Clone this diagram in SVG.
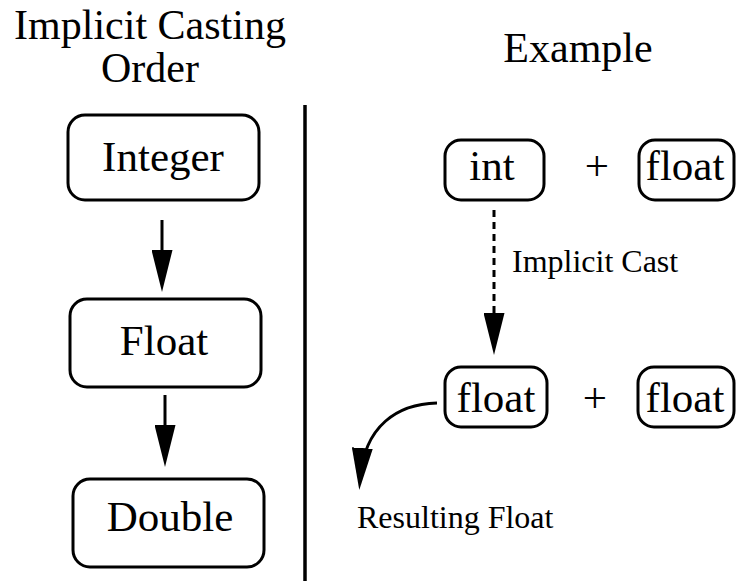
<svg xmlns="http://www.w3.org/2000/svg" width="736" height="581" viewBox="0 0 736 581">
  <style>
    .big { font-family: "Liberation Serif", "Times New Roman", serif; font-size: 42px; fill: #000; }
    .box { font-family: "Liberation Serif", "Times New Roman", serif; font-size: 43px; fill: #000; text-anchor: middle; }
    .small { font-family: "Liberation Serif", "Times New Roman", serif; font-size: 32px; fill: #000; }
    .node rect { fill: #fff; stroke: #000; stroke-width: 3; }
    .conn { fill: none; stroke: #000; stroke-width: 3; }
    .dash { stroke-dasharray: 7 5; }
  </style>
  <defs>
    <marker id="head" viewBox="0 0 42 21" markerWidth="42" markerHeight="21" refX="32" refY="10.5" orient="auto" markerUnits="userSpaceOnUse">
      <path d="M0,0 L42,10.5 L0,21 z" fill="#000"/>
    </marker>
  </defs>
  <rect width="736" height="581" fill="#fff"/>

  <g id="titles">
    <text class="big" x="150" y="39" text-anchor="middle">Implicit Casting</text>
    <text class="big" x="150" y="82" text-anchor="middle">Order</text>
    <text class="big" x="578" y="62" text-anchor="middle">Example</text>
  </g>

  <line id="divider" x1="305" y1="105" x2="305" y2="581" stroke="#000" stroke-width="3.5"/>

  <g id="node-integer" class="node">
    <rect x="68" y="115" width="191" height="85" rx="17"/>
    <text class="box" x="163" y="171">Integer</text>
  </g>
  <g id="node-float" class="node">
    <rect x="70" y="299" width="191" height="88" rx="17"/>
    <text class="box" x="164" y="355">Float</text>
  </g>
  <g id="node-double" class="node">
    <rect x="73" y="479" width="191" height="88" rx="17"/>
    <text class="box" x="170" y="531">Double</text>
  </g>

  <g id="node-int" class="node">
    <rect x="445" y="140" width="99" height="60" rx="16"/>
    <text class="box" x="492" y="180">int</text>
  </g>
  <g id="plus1">
    <text class="box" x="597" y="180">+</text>
  </g>
  <g id="node-float-a" class="node">
    <rect x="639" y="140" width="95" height="60" rx="16"/>
    <text class="box" x="685" y="180">float</text>
  </g>

  <g id="node-float-b" class="node">
    <rect x="445" y="367" width="102" height="60" rx="16"/>
    <text class="box" x="496" y="412">float</text>
  </g>
  <g id="plus2">
    <text class="box" x="595" y="412">+</text>
  </g>
  <g id="node-float-c" class="node">
    <rect x="638" y="367" width="96" height="60" rx="16"/>
    <text class="box" x="685" y="412">float</text>
  </g>

  <g id="connectors">
    <line class="conn" x1="162" y1="220" x2="162" y2="282" marker-end="url(#head)"/>
    <line class="conn" x1="165" y1="395" x2="165" y2="457" marker-end="url(#head)"/>
    <line class="conn dash" x1="494" y1="210" x2="494" y2="345" marker-end="url(#head)"/>
    <path class="conn" d="M437,403 C398,404 364,425 360,480" marker-end="url(#head)"/>
  </g>

  <g id="labels">
    <text class="small" x="512" y="272">Implicit Cast</text>
    <text class="small" x="357" y="528">Resulting Float</text>
  </g>
</svg>
